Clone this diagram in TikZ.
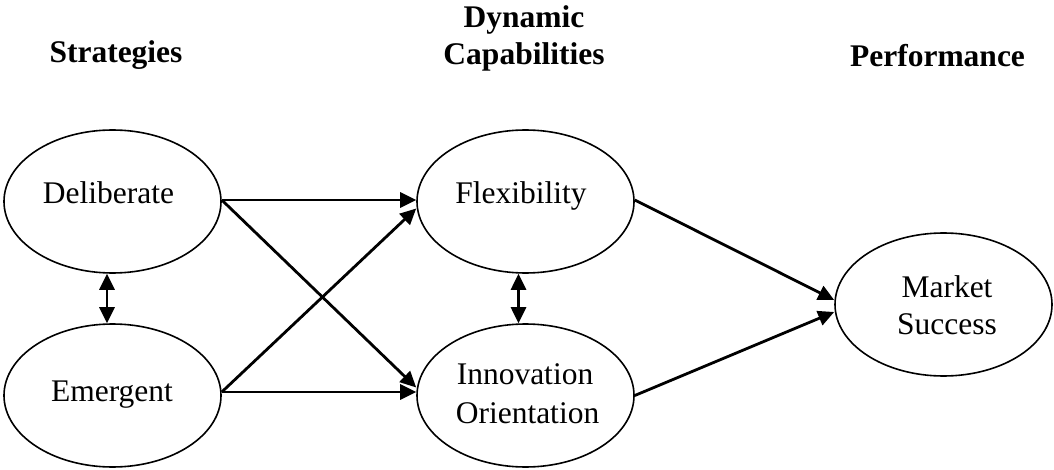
\documentclass[tikz,border=0pt]{standalone}
\usepackage{fontspec}
\setmainfont{Liberation Serif}
\usetikzlibrary{arrows.meta,shapes.geometric}
\begin{document}
\begin{tikzpicture}[x=1pt,y=-1pt,
  blob/.style={draw,ellipse,line width=1.6pt,minimum width=217pt,minimum height=143pt,inner sep=0pt},
  txt/.style={anchor=base,inner sep=0pt,font=\fontsize{31.5}{38}\selectfont},
  head/.style={anchor=base,inner sep=0pt,font=\fontsize{31.5}{38}\selectfont\bfseries},
  link/.style={line width=2.8pt,-{Triangle[length=16pt,width=15pt]}},
  both/.style={line width=2.8pt,{Triangle[length=16pt,width=15pt]}-{Triangle[length=16pt,width=15pt]}}]
\useasboundingbox (0,0) rectangle (1054,470);

% column headings
\node[head] (hs) at (116,63) {Strategies};
\node[head] (hd1) at (524,28) {Dynamic};
\node[head] (hd2) at (524,65) {Capabilities};
\node[head] (hp) at (937.5,67) {Performance};

% constructs
\node[blob] (dl) at (112.5,201.5) {};
\node[blob] (em) at (112.5,395.5) {};
\node[blob] (fx) at (525.5,201.5) {};
\node[blob] (io) at (525.5,395.5) {};
\node[blob] (ms) at (943.5,304.5) {};

\node[txt] (tdl) at (108.5,204) {Deliberate};
\node[txt] (tem) at (112,401) {Emergent};
\node[txt] (tfx) at (521,204) {Flexibility};
\node[txt] (tio1) at (525,384) {Innovation};
\node[txt] (tio2) at (527.5,423) {Orientation};
\node[txt] (tms1) at (947,298) {Market};
\node[txt] (tms2) at (947,334) {Success};

% paths
\draw[link] ([yshift=1.5pt]dl.east) -- ([yshift=1.5pt]fx.west);
\draw[link] ([yshift=1.5pt]dl.east) -- ([yshift=8pt]io.west);
\draw[link] ([yshift=3.5pt]em.east) -- ([yshift=-7pt]fx.west);
\draw[link] ([yshift=3.5pt]em.east) -- ([yshift=3.5pt]io.west);
\draw[link] ([yshift=1.5pt]fx.east) -- ([yshift=4.5pt]ms.west);
\draw[link] (io.east) -- ([yshift=-7.5pt]ms.west);

% correlations
\draw[both] ([xshift=-5.5pt]dl.south) -- ([xshift=-5.5pt]em.north);
\draw[both] ([xshift=-7pt]fx.south) -- ([xshift=-7pt]io.north);
\end{tikzpicture}
\end{document}
